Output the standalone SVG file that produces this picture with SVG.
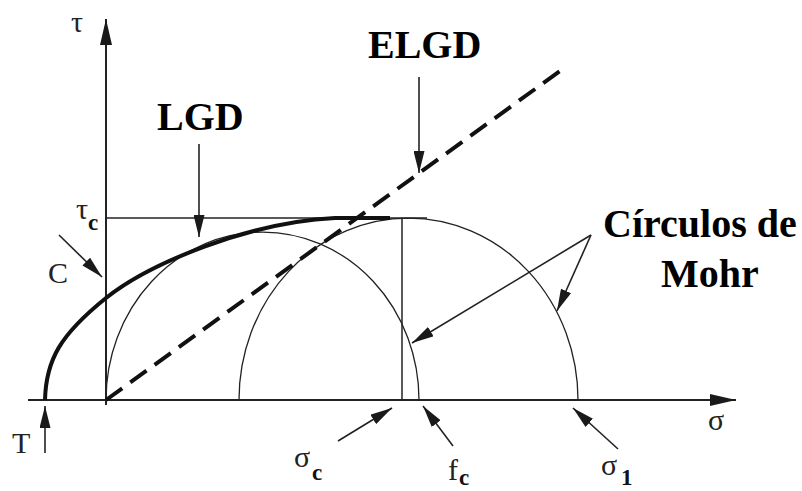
<svg xmlns="http://www.w3.org/2000/svg" width="802" height="491" viewBox="0 0 802 491">
<defs>
<marker id="ah" viewBox="0 0 22 11" markerWidth="22" markerHeight="11" refX="22" refY="5.5" orient="auto" markerUnits="userSpaceOnUse"><path d="M0,0 L22,5.5 L0,11 z" fill="#1a1a1a"/></marker>
<marker id="axh" viewBox="0 0 26 12" markerWidth="26" markerHeight="12" refX="26" refY="6" orient="auto" markerUnits="userSpaceOnUse"><path d="M0,0 L26,6 L0,12 z" fill="#1a1a1a"/></marker>
</defs>
<style>
.ax{stroke:#222;stroke-width:2;fill:none}
.thin{stroke:#222;stroke-width:1.5;fill:none}
.circ{stroke:#222;stroke-width:1.3;fill:none}
.arr{stroke:#222;stroke-width:1.6;fill:none;marker-end:url(#ah)}
.big{font-family:"Liberation Serif","Times New Roman",serif;font-weight:bold;font-size:40px;fill:#000}
.lab{font-family:"Liberation Serif","Times New Roman",serif;font-size:30px;fill:#222}
.sub{font-family:"Liberation Serif","Times New Roman",serif;font-weight:bold;font-size:23px;fill:#111}
</style>
<rect width="802" height="491" fill="#fff"/>
<g id="axes">
<line class="ax" x1="28" y1="400" x2="736" y2="400" marker-end="url(#axh)"/>
<line class="ax" x1="106" y1="405" x2="106" y2="19" marker-end="url(#axh)"/>
</g>
<g id="guides">
<line class="thin" x1="106" y1="218" x2="427" y2="218"/>
<line class="thin" x1="402" y1="218" x2="402" y2="400"/>
</g>
<g id="mohr-circles">
<path class="circ" d="M106,400 A156.5,168 0 0 1 419,400"/>
<path class="circ" d="M239,400 A169.5,182 0 0 1 578,400"/>
</g>
<g id="lgd-curve">
<path d="M45,400 C46,360 60,335 106,298 C150,263 250,222 335,218 L390,218" stroke="#111" stroke-width="4" fill="none"/>
</g>
<g id="elgd-line">
<line x1="106" y1="400" x2="560" y2="71" stroke="#111" stroke-width="4" stroke-dasharray="20 10"/>
</g>
<g id="connectors">
<line class="arr" x1="199" y1="144" x2="199" y2="237"/>
<line class="arr" x1="419" y1="77" x2="419" y2="173"/>
<line class="arr" x1="591" y1="235" x2="412" y2="343"/>
<line class="arr" x1="591" y1="235" x2="557" y2="311"/>
<line class="arr" x1="59" y1="235" x2="102" y2="277"/>
<line class="arr" x1="45" y1="453" x2="45" y2="406"/>
<line class="arr" x1="338" y1="441" x2="392" y2="408"/>
<line class="arr" x1="453" y1="446" x2="423" y2="406"/>
<line class="arr" x1="618" y1="449" x2="573" y2="408"/>
</g>
<g id="label-LGD"><text class="big" x="157" y="130">LGD</text></g>
<g id="label-ELGD"><text class="big" x="368" y="58">ELGD</text></g>
<g id="label-circulos"><text class="big" x="603" y="237">Círculos de</text><text class="big" x="661" y="287">Mohr</text></g>
<g id="label-tau"><text class="lab" x="71" y="32">τ</text></g>
<g id="label-tauc"><text class="lab" x="76" y="219">τ</text><text class="sub" x="88" y="230">c</text></g>
<g id="label-C"><text class="lab" x="48" y="283">C</text></g>
<g id="label-T"><text class="lab" x="12" y="453">T</text></g>
<g id="label-sigma"><text class="lab" x="708" y="430">σ</text></g>
<g id="label-sigmac"><text class="lab" x="294" y="467">σ</text><text class="sub" x="312" y="480">c</text></g>
<g id="label-fc"><text class="lab" x="448" y="480">f</text><text class="sub" x="459" y="485">c</text></g>
<g id="label-sigma1"><text class="lab" x="601" y="475">σ</text><text class="sub" x="621" y="485">1</text></g>
</svg>
